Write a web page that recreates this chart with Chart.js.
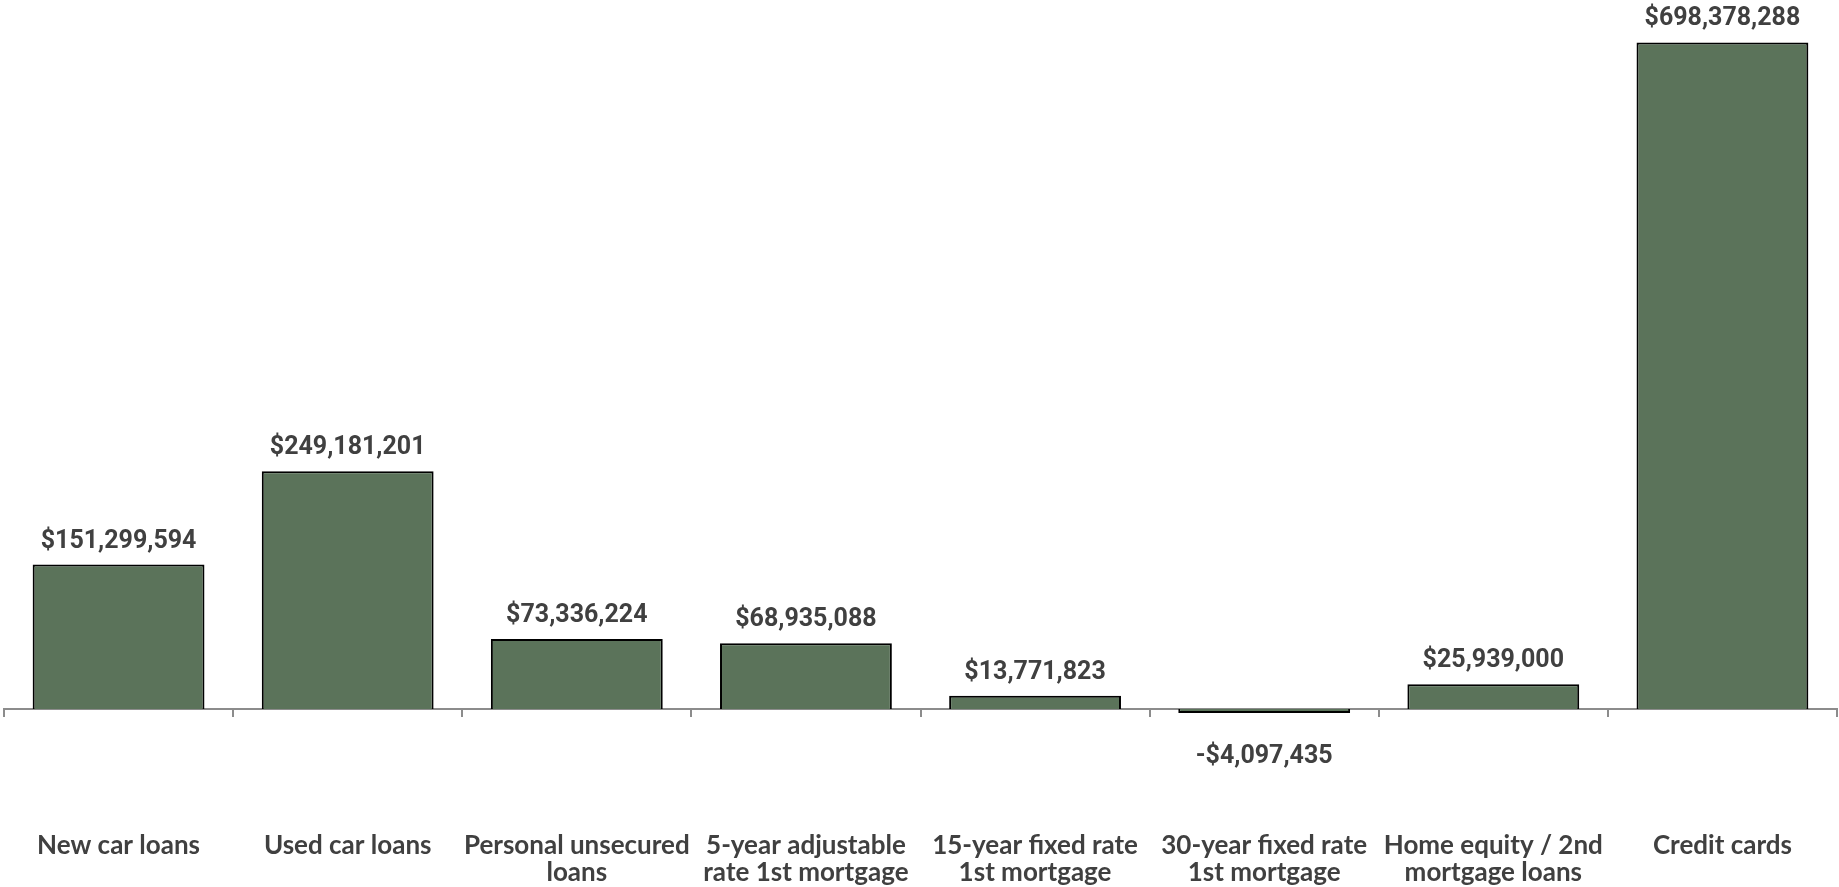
<!DOCTYPE html>
<html>
<head>
<meta charset="utf-8">
<script src="https://cdn.jsdelivr.net/npm/chart.js@4/dist/chart.umd.min.js"></script>
<style>
  html, body { margin: 0; padding: 0; background: #ffffff; }
  #wrap { position: relative; width: 1839px; height: 887px; }
</style>
</head>
<body>
<div id="wrap"><canvas id="c"></canvas></div>
<script>
const categories = [
  ["New car loans"],
  ["Used car loans"],
  ["Personal unsecured", "loans"],
  ["5-year adjustable", "rate 1st mortgage"],
  ["15-year fixed rate", "1st mortgage"],
  ["30-year fixed rate", "1st mortgage"],
  ["Home equity / 2nd", "mortgage loans"],
  ["Credit cards"]
];
const values = [151299594, 249181201, 73336224, 68935088, 13771823, -4097435, 25939000, 698378288];
const yMin = -186500000;
const yMax = 742900000;

function fmt(v) {
  const s = Math.abs(v).toLocaleString('en-US');
  return (v < 0 ? '-$' : '$') + s;
}

const valueLabels = {
  id: 'valueLabels',
  afterDatasetsDraw(chart) {
    const ctx = chart.ctx;
    const meta = chart.getDatasetMeta(0);
    ctx.save();
    ctx.font = 'bold 25px Roboto';
    ctx.fillStyle = '#404040';
    ctx.textAlign = 'center';
    ctx.textBaseline = 'alphabetic';
    meta.data.forEach((bar, i) => {
      const v = values[i];
      if (v >= 0) {
        ctx.fillText(fmt(v), bar.x, bar.y - 17);
      } else {
        ctx.fillText(fmt(v), bar.x, bar.y + 50);
      }
    });
    ctx.restore();
  }
};

new Chart(document.getElementById('c'), {
  type: 'bar',
  data: {
    labels: categories,
    datasets: [{
      data: values,
      backgroundColor: '#5B735A',
      borderColor: '#000000',
      borderWidth: 2,
      categoryPercentage: 1.0,
      barPercentage: 0.75
    }]
  },
  options: {
    responsive: true,
    maintainAspectRatio: false,
    animation: false,
    layout: { padding: { left: 4, right: 2, top: 0, bottom: 0 } },
    plugins: { legend: { display: false }, tooltip: { enabled: false } },
    scales: {
      x: {
        position: { y: 0 },
        z: 1,
        afterFit: (scale) => { scale.height = 0; scale.paddingLeft = 0; scale.paddingRight = 0; },
        border: { display: true, color: '#8c8c8c', width: 2 },
        grid: { display: true, drawOnChartArea: false, drawTicks: true, tickLength: 7, color: '#8c8c8c', lineWidth: 2, offset: true },
        ticks: {
          color: '#404040',
          font: { family: 'Lato', size: 26, weight: 'bold', lineHeight: 1.04 },
          padding: 116,
          maxRotation: 0,
          minRotation: 0,
          autoSkip: false
        }
      },
      y: {
        display: false,
        min: yMin,
        max: yMax
      }
    }
  },
  plugins: [valueLabels]
});
</script>
</body>
</html>
